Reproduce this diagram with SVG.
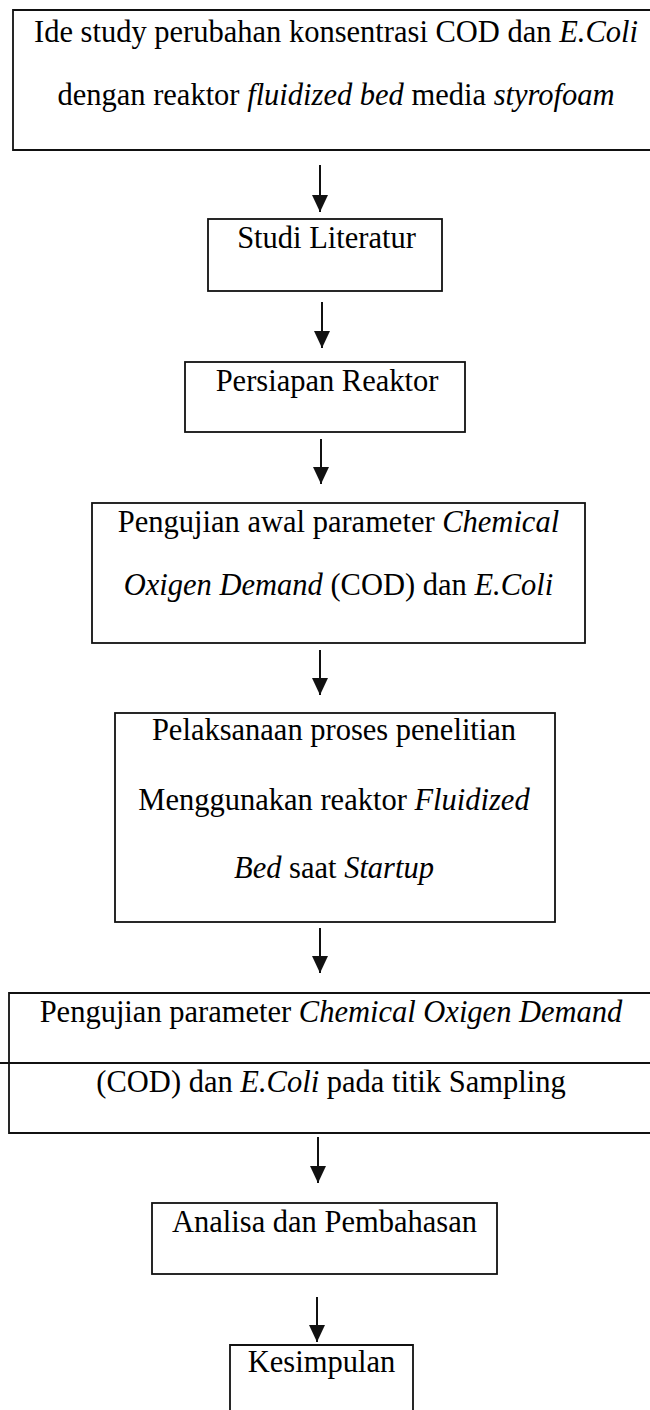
<svg xmlns="http://www.w3.org/2000/svg" width="650" height="1410" viewBox="0 0 650 1410">
<defs>
<style>
.box{fill:none;stroke:#111;stroke-width:1.8}
.t{font-family:"Liberation Serif","Times New Roman",serif;font-size:30.5px;fill:#000;text-anchor:middle}
.i{font-style:italic}
.con{stroke:#111;stroke-width:2;fill:none}
</style>
<marker id="ah" markerUnits="userSpaceOnUse" markerWidth="18" markerHeight="18" refX="17" refY="8" orient="auto">
<path d="M0,0 L17,8 L0,16 Z" fill="#111"/>
</marker>
</defs>
<rect width="650" height="1410" fill="#fff"/>
<g id="connectors">
<line class="con" x1="320" y1="165" x2="320" y2="212" marker-end="url(#ah)"/>
<line class="con" x1="322" y1="302" x2="322" y2="348" marker-end="url(#ah)"/>
<line class="con" x1="321" y1="439" x2="321" y2="484" marker-end="url(#ah)"/>
<line class="con" x1="320" y1="650" x2="320" y2="695" marker-end="url(#ah)"/>
<line class="con" x1="320" y1="928" x2="320" y2="973" marker-end="url(#ah)"/>
<line class="con" x1="318" y1="1137" x2="318" y2="1183" marker-end="url(#ah)"/>
<line class="con" x1="317" y1="1297" x2="317" y2="1342" marker-end="url(#ah)"/>
</g>
<g id="n1">
<path class="box" d="M650,10 H13 V150 H650"/>
<text class="t" x="336" y="42">Ide study perubahan konsentrasi COD dan <tspan class="i">E.Coli</tspan></text>
<text class="t" x="336" y="105">dengan reaktor <tspan class="i">fluidized bed</tspan> media <tspan class="i">styrofoam</tspan></text>
</g>
<g id="n2">
<rect class="box" x="208" y="219" width="234" height="72"/>
<text class="t" x="326.5" y="248">Studi Literatur</text>
</g>
<g id="n3">
<rect class="box" x="185" y="362" width="280" height="70"/>
<text class="t" x="327" y="391">Persiapan Reaktor</text>
</g>
<g id="n4">
<rect class="box" x="92" y="503" width="493" height="140"/>
<text class="t" x="338.5" y="532">Pengujian awal parameter  <tspan class="i">Chemical</tspan></text>
<text class="t" x="338.5" y="595"><tspan class="i">Oxigen Demand</tspan> (COD) dan <tspan class="i">E.Coli</tspan></text>
</g>
<g id="n5">
<rect class="box" x="115" y="713" width="440" height="209"/>
<text class="t" x="334" y="740">Pelaksanaan proses penelitian</text>
<text class="t" x="334" y="810">Menggunakan reaktor <tspan class="i">Fluidized</tspan></text>
<text class="t" x="334" y="878"><tspan class="i">Bed</tspan> saat <tspan class="i">Startup</tspan></text>
</g>
<g id="n6">
<path class="box" d="M650,993 H9 V1133 H650"/>
<line class="box" x1="0" y1="1063" x2="650" y2="1063"/>
<text class="t" x="331" y="1022">Pengujian parameter <tspan class="i">Chemical Oxigen Demand</tspan></text>
<text class="t" x="331" y="1092">(COD) dan <tspan class="i">E.Coli</tspan> pada titik Sampling</text>
</g>
<g id="n7">
<rect class="box" x="152" y="1203" width="345" height="71"/>
<text class="t" x="324.5" y="1232">Analisa dan Pembahasan</text>
</g>
<g id="n8">
<path class="box" d="M230,1410 V1345 H413 V1410"/>
<text class="t" x="321.5" y="1372">Kesimpulan</text>
</g>
</svg>
